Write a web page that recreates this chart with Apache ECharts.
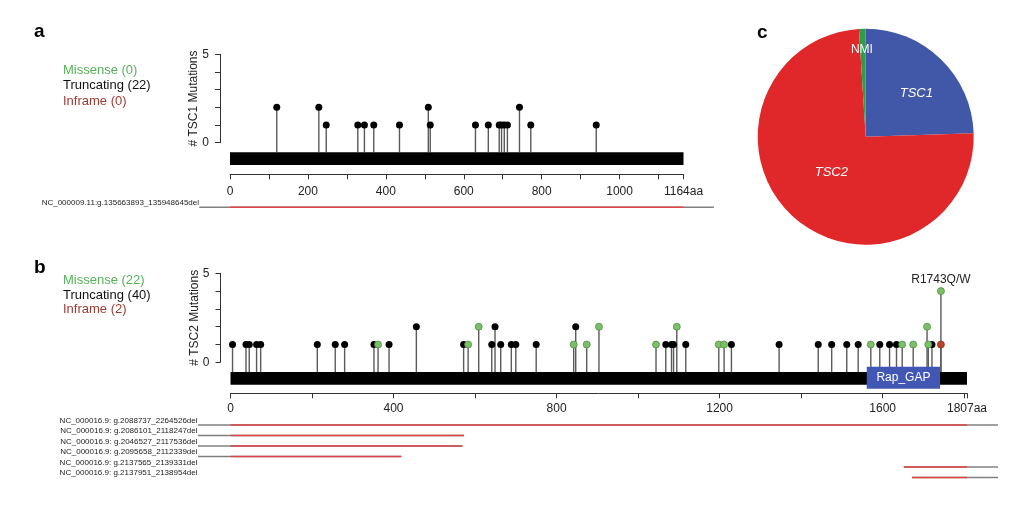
<!DOCTYPE html>
<html>
<head>
<meta charset="utf-8">
<script src="https://cdn.jsdelivr.net/npm/echarts@6/dist/echarts.min.js"></script>
<style>
  html, body { margin: 0; padding: 0; background: #fff; }
  #chart { width: 1024px; height: 512px; }
</style>
</head>
<body>
<div id="chart"></div>
<script>
// protein lengths (aa)
const tsc1Len = 1164;
const tsc2Len = 1807;

// TSC1 mutations: position (aa) and count
const tsc1TruncPos = [120, 228, 247, 328, 345, 369, 435, 509, 514, 630, 663, 691, 697, 704, 712, 743, 772, 940];
const tsc1TruncCnt = [2, 2, 1, 1, 1, 1, 1, 2, 1, 1, 1, 1, 1, 1, 1, 2, 1, 1];

// TSC2 mutations
const tsc2MisPos = [362, 583, 609, 842, 874, 904, 1044, 1095, 1198, 1211, 1571, 1648, 1675, 1709, 1712, 1743];
const tsc2MisCnt = [1, 1, 2, 1, 1, 2, 1, 2, 1, 1, 1, 1, 1, 2, 1, 4];
const tsc2TruncPos = [5, 38, 46, 64, 74, 213, 257, 280, 352, 389, 456, 572, 641, 649, 663, 689, 700, 750, 847,
  1068, 1082, 1087, 1117, 1229, 1346, 1442, 1475, 1512, 1540, 1593, 1617, 1634, 1721];
const tsc2TruncCnt = [1, 1, 1, 1, 1, 1, 1, 1, 1, 1, 2, 1, 1, 2, 1, 1, 1, 1, 2,
  1, 1, 1, 1, 1, 1, 1, 1, 1, 1, 1, 1, 1, 1];
const tsc2InfPos = [1743];
const tsc2InfCnt = [1];
const tsc2Annot = { pos: 1743, text: 'R1743Q/W' };

// domain
const tsc2Domain = { name: 'Rap_GAP', from: 1561, to: 1741 };

// large deletions, in aa (values outside 0..len = beyond the gene)
const tsc1DelLabels = ['NC_000009.11:g.135663893_135948645del'];
const tsc1DelFrom = [-79];
const tsc1DelTo = [1242];
const tsc2DelLabels = [
  'NC_000016.9: g.2088737_2264526del',
  'NC_000016.9: g.2086101_2118247del',
  'NC_000016.9: g.2046527_2117536del',
  'NC_000016.9: g.2095658_2112339del',
  'NC_000016.9: g.2137565_2139331del',
  'NC_000016.9: g.2137951_2138954del'
];
const tsc2DelFrom = [-80, -80, -80, -80, 1652, 1672];
const tsc2DelTo = [1883, 573, 569, 419, 1883, 1883];

// pie (share of patients)
const pieNames = ['TSC1', 'TSC2', 'NMI'];
const pieValues = [24.5, 74.5, 1];

// legend counts
const tsc1Legend = [['Missense (0)', '#55b15a'], ['Truncating (22)', '#111'], ['Inframe (0)', '#9b3a33']];
const tsc2Legend = [['Missense (22)', '#55b15a'], ['Truncating (40)', '#111'], ['Inframe (2)', '#9b3a33']];

const FONT = '"Liberation Sans", Arial, Helvetica, sans-serif';
const BAR_TOP = -0.54, BAR_BOT = -1.26;     // backbone in y units
const DOM_TOP = -0.25, DOM_BOT = -1.48;

const zip = (a, b) => a.map((v, i) => [v, b[i]]);

function stemsRender(params, api) {
  const p1 = api.coord([api.value(0), api.value(1)]);
  const p2 = api.coord([api.value(0), BAR_TOP]);
  return { type: 'line', shape: { x1: p1[0], y1: p1[1], x2: p2[0], y2: p2[1] },
    style: { stroke: '#5a5a5a', lineWidth: 1.4 } };
}
function backboneRender(params, api) {
  const a = api.coord([api.value(0), BAR_TOP]);
  const b = api.coord([api.value(1), BAR_BOT]);
  return { type: 'rect', shape: { x: a[0], y: a[1], width: b[0] - a[0], height: b[1] - a[1] },
    style: { fill: '#000' } };
}
function delRender(len) {
  return function (params, api) {
    const from = api.value(0), to = api.value(1), row = api.value(2);
    const g1 = api.coord([from, row]), g2 = api.coord([to, row]);
    const r1 = api.coord([Math.max(0, from), row]), r2 = api.coord([Math.min(len, to), row]);
    return { type: 'group', children: [
      { type: 'line', shape: { x1: g1[0], y1: g1[1], x2: g2[0], y2: g2[1] }, style: { stroke: '#808080', lineWidth: 1.4 } },
      { type: 'line', shape: { x1: r1[0], y1: r1[1], x2: r2[0], y2: r2[1] }, style: { stroke: '#e04448', lineWidth: 1.4 } }
    ] };
  };
}

function valueXAxis(grid, len, interval, labelStep, offset, margin) {
  return {
    gridIndex: grid, type: 'value', min: 0, max: len, interval: interval, offset: offset,
    axisLine: { show: true, onZero: false, lineStyle: { color: '#333', width: 1 } },
    axisTick: { show: true, length: 5, lineStyle: { color: '#333' } },
    splitLine: { show: false },
    axisLabel: {
      margin: margin, fontSize: 12, fontFamily: FONT, color: '#222', showMinLabel: true, showMaxLabel: true,
      formatter: v => v === len ? len + 'aa' : (v % labelStep === 0 && len - v > 50 ? String(v) : '')
    }
  };
}
function countYAxis(grid, name) {
  return {
    gridIndex: grid, type: 'value', min: 0, max: 5, interval: 1, offset: 10,
    name: name, nameLocation: 'middle', nameGap: 20, nameMoveOverlap: false,
    nameTextStyle: { fontSize: 12, fontFamily: FONT, color: '#222' },
    axisLine: { show: true, onZero: false, lineStyle: { color: '#333' } },
    axisTick: { show: true, length: 5, lineStyle: { color: '#333' } },
    splitLine: { show: false },
    axisLabel: { margin: 11, fontSize: 12, fontFamily: FONT, color: '#222',
      formatter: v => (v === 0 || v === 5) ? String(v) : '' }
  };
}
function delYAxis(grid, labels, margin) {
  return {
    gridIndex: grid, type: 'category', inverse: true, data: labels,
    axisLine: { show: false, onZero: false }, axisTick: { show: false }, splitLine: { show: false },
    axisLabel: { margin: margin, fontSize: 8, fontFamily: FONT, color: '#222', verticalAlign: 'bottom', lineHeight: 9 }
  };
}
function hiddenX(grid, len) {
  return { gridIndex: grid, type: 'value', min: 0, max: len, show: false, axisLine: { onZero: false } };
}
function dots(name, x, y, pos, cnt, color, border) {
  return {
    name: name, type: 'scatter', xAxisIndex: x, yAxisIndex: y, z: 5,
    symbolSize: 7, data: zip(pos, cnt),
    itemStyle: { color: color, borderColor: border, borderWidth: border ? 0.8 : 0, opacity: 1 },
    emphasis: { disabled: true }
  };
}
function legendTexts(items, x, y0, step) {
  return items.map((it, i) => ({
    type: 'text', x: x, y: y0 + i * step,
    style: { text: it[0], fill: it[1], fontSize: 13, fontFamily: FONT, verticalAlign: 'middle' }
  }));
}
function panelLetter(t, x, y) {
  return { type: 'text', x: x, y: y,
    style: { text: t, fill: '#000', fontSize: 19, fontWeight: 'bold', fontFamily: FONT, verticalAlign: 'middle' } };
}

const misData = zip(tsc2MisPos, tsc2MisCnt).map(d => d[0] === tsc2Annot.pos ? {
  value: d, label: { show: true, position: 'top', distance: 2, formatter: tsc2Annot.text,
    fontSize: 12, fontFamily: FONT, color: '#222' }
} : d);

const tsc1Stems = zip(tsc1TruncPos, tsc1TruncCnt);
const tsc2Stems = zip(tsc2MisPos, tsc2MisCnt).concat(zip(tsc2TruncPos, tsc2TruncCnt), zip(tsc2InfPos, tsc2InfCnt));

const pieColors = ['#4157a8', '#e0282b', '#2f9c47'];
const pieLabelShift = [[11, -2], [4, -6], [-2, -30]];

const chart = echarts.init(document.getElementById('chart'));
chart.setOption({
  backgroundColor: '#fff',
  animation: false,
  grid: [
    { left: 230, top: 54.3, width: 453.5, height: 88.4 },
    { left: 230, top: 202.3, width: 453.5, height: 10 },
    { left: 230.5, top: 273.3, width: 736.5, height: 89 },
    { left: 230.5, top: 419.8, width: 736.5, height: 63 }
  ],
  xAxis: [
    valueXAxis(0, tsc1Len, 100, 200, 31.6, 11),
    hiddenX(1, tsc1Len),
    valueXAxis(2, tsc2Len, 200, 400, 31, 9),
    hiddenX(3, tsc2Len)
  ],
  yAxis: [
    countYAxis(0, '# TSC1 Mutations'),
    delYAxis(1, tsc1DelLabels, 31),
    countYAxis(2, '# TSC2 Mutations'),
    delYAxis(3, tsc2DelLabels, 33)
  ],
  graphic: [
    panelLetter('a', 34, 32), panelLetter('b', 34, 268), panelLetter('c', 757, 33)
  ].concat(legendTexts(tsc1Legend, 63, 70.5, 15.3), legendTexts(tsc2Legend, 63, 280.5, 14.5)),
  series: [
    { type: 'custom', xAxisIndex: 0, yAxisIndex: 0, z: 2, renderItem: stemsRender, data: tsc1Stems, silent: true },
    { type: 'custom', xAxisIndex: 0, yAxisIndex: 0, z: 3, renderItem: backboneRender, data: [[0, tsc1Len]], silent: true },
    dots('TSC1 truncating', 0, 0, tsc1TruncPos, tsc1TruncCnt, '#000'),
    { type: 'custom', xAxisIndex: 1, yAxisIndex: 1, renderItem: delRender(tsc1Len),
      data: tsc1DelFrom.map((f, i) => [f, tsc1DelTo[i], i]), silent: true },

    { type: 'custom', xAxisIndex: 2, yAxisIndex: 2, z: 2, renderItem: stemsRender, data: tsc2Stems, silent: true },
    { type: 'custom', xAxisIndex: 2, yAxisIndex: 2, z: 3, renderItem: backboneRender, data: [[0, tsc2Len]], silent: true },
    { type: 'custom', xAxisIndex: 2, yAxisIndex: 2, z: 4, silent: true,
      data: [[tsc2Domain.from, tsc2Domain.to]],
      renderItem: function (params, api) {
        const a = api.coord([api.value(0), DOM_TOP]);
        const b = api.coord([api.value(1), DOM_BOT]);
        return { type: 'group', children: [
          { type: 'rect', shape: { x: a[0], y: a[1], width: b[0] - a[0], height: b[1] - a[1] }, style: { fill: '#4157b3' } },
          { type: 'text', x: (a[0] + b[0]) / 2, y: (a[1] + b[1]) / 2,
            style: { text: tsc2Domain.name, fill: '#fff', fontSize: 12, fontFamily: FONT, align: 'center', verticalAlign: 'middle' } }
        ] };
      } },
    dots('TSC2 truncating', 2, 2, tsc2TruncPos, tsc2TruncCnt, '#000'),
    Object.assign(dots('TSC2 missense', 2, 2, tsc2MisPos, tsc2MisCnt, '#7cbf69', '#4e8f40'), { data: misData }),
    dots('TSC2 inframe', 2, 2, tsc2InfPos, tsc2InfCnt, '#b8432f', '#8a2f20'),
    { type: 'custom', xAxisIndex: 3, yAxisIndex: 3, renderItem: delRender(tsc2Len),
      data: tsc2DelFrom.map((f, i) => [f, tsc2DelTo[i], i]), silent: true },

    {
      type: 'pie', center: [865.7, 136.7], radius: 108, startAngle: 90, clockwise: true,
      silent: true, emphasis: { disabled: true },
      data: pieNames.map((n, i) => ({ name: n, value: pieValues[i], itemStyle: { color: pieColors[i] },
        label: { fontStyle: n === 'NMI' ? 'normal' : 'italic', fontSize: n === 'NMI' ? 12 : 13 } })),
      itemStyle: { borderWidth: 0 },
      label: { show: true, position: 'inside', color: '#fff', fontFamily: FONT, formatter: '{b}' },
      labelLine: { show: false },
      labelLayout: p => ({ dx: pieLabelShift[p.dataIndex][0], dy: pieLabelShift[p.dataIndex][1] })
    }
  ]
});
</script>
</body>
</html>
